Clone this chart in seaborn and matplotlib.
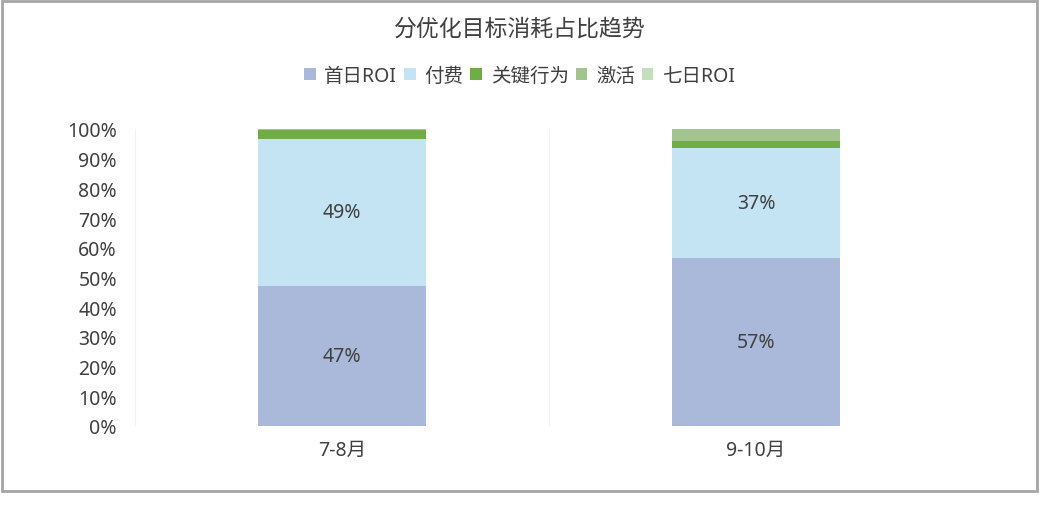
import pandas as pd
import numpy as np
import matplotlib
matplotlib.use('Agg')
import matplotlib.pyplot as plt
import seaborn as sns
from matplotlib.patches import Patch, Rectangle

# 数据
periods = ['7-8月', '9-10月']
series_names = ['首日ROI', '付费', '关键行为', '激活', '七日ROI']
roi_day1 = [47.3, 56.6]
pay = [49.4, 37.0]
key_action = [2.8, 2.4]
activate = [0.5, 4.0]
roi_day7 = [0.0, 0.0]
colors = ['#AAB9DA', '#C4E4F4', '#70AD47', '#A3C48E', '#C6DEC0']

sns.set_theme(style='white')
plt.rcParams['font.family'] = ['Noto Sans', 'Noto Sans CJK SC', 'DejaVu Sans']
text_color = '#404040'

df = pd.DataFrame({'时段': periods, '首日ROI': roi_day1, '付费': pay,
                   '关键行为': key_action, '激活': activate, '七日ROI': roi_day7})
cum = df[series_names].cumsum(axis=1) / 100.0

fig = plt.figure(figsize=(10.39, 5.06), dpi=100)
ax = fig.add_axes([135 / 1039, 1 - 427 / 506, 828 / 1039, 297 / 506])

# 从最高的累积值往下画，形成堆叠效果
for name, c in reversed(list(zip(series_names, colors))):
    sns.barplot(x=df['时段'], y=cum[name], color=c, width=0.405, ax=ax,
                saturation=1, linewidth=0)

# 数据标签（只标前两项）
bottoms = np.zeros(len(periods))
for name in series_names[:2]:
    vals = df[name].values / 100.0
    for i, v in enumerate(vals):
        ax.text(i, bottoms[i] + v / 2, f'{round(df[name].values[i]):.0f}%',
                ha='center', va='center', fontsize=14, color=text_color)
    bottoms = bottoms + vals

ax.set_ylim(0, 1)
ax.set_xlim(-0.5, 1.5)
ax.set_yticks(np.arange(0, 1.01, 0.1))
ax.set_yticklabels([f'{int(round(t * 100))}%' for t in np.arange(0, 1.01, 0.1)],
                   fontsize=14, color=text_color)
ax.tick_params(axis='x', labelsize=14, labelcolor=text_color, pad=4)
ax.tick_params(axis='y', pad=13, length=0)
ax.set_xlabel('')
ax.set_ylabel('')
for s in ax.spines.values():
    s.set_visible(False)
for xv in [-0.5, 0.5, 1.5]:
    ax.axvline(xv, color='#F2F2F2', linewidth=0.8, zorder=0)

fig.text(0.5, 1 - 30 / 506, '分优化目标消耗占比趋势', ha='center', va='center',
         fontsize=16.5, color=text_color)

handles = [Patch(facecolor=c, edgecolor='none', label=n) for n, c in zip(series_names, colors)]
fig.legend(handles=handles, loc='center', bbox_to_anchor=(0.5, 1 - 77 / 506), ncol=5,
           frameon=False, fontsize=14, handlelength=0.6, handleheight=0.6,
           handletextpad=0.45, columnspacing=0.35, labelcolor=text_color)

# 外边框
fig.add_artist(Rectangle((1.5 / 1039, 1 - 492 / 506), 1035 / 1039, 490 / 506,
                         transform=fig.transFigure, fill=False,
                         edgecolor='#A6A6A6', linewidth=2))

plt.savefig('out.png', dpi=100)
plt.close()
